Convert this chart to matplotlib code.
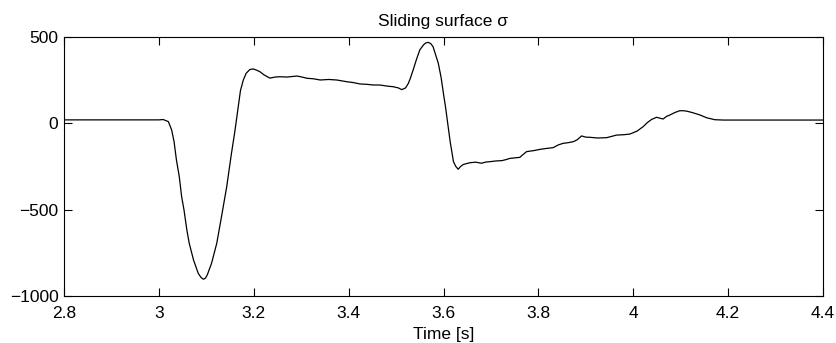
import matplotlib
matplotlib.use("Agg")
import matplotlib.pyplot as plt

# time [s] and sliding surface value
t = [2.80, 3.00, 3.009, 3.020, 3.027, 3.032, 3.037, 3.043, 3.048, 3.053,
     3.059, 3.064, 3.073, 3.083, 3.089, 3.094, 3.098, 3.102, 3.111, 3.122,
     3.132, 3.143, 3.153, 3.160, 3.167, 3.172, 3.178, 3.184, 3.192, 3.199,
     3.206, 3.213, 3.222, 3.234, 3.245, 3.255, 3.270, 3.291, 3.302, 3.312,
     3.326, 3.340, 3.358, 3.375, 3.396, 3.410, 3.424, 3.438, 3.452, 3.466,
     3.480, 3.494, 3.505, 3.512, 3.520, 3.526, 3.530, 3.536, 3.543, 3.550,
     3.558, 3.563, 3.568, 3.573, 3.578, 3.583, 3.589, 3.595, 3.600, 3.604,
     3.607, 3.611, 3.614, 3.618, 3.621, 3.626, 3.631, 3.636, 3.642, 3.650,
     3.656, 3.668, 3.680, 3.690, 3.698, 3.710, 3.723, 3.732, 3.740, 3.750,
     3.761, 3.768, 3.775, 3.790, 3.803, 3.818, 3.831, 3.842, 3.852, 3.863,
     3.874, 3.882, 3.891, 3.900, 3.909, 3.925, 3.944, 3.955, 3.965, 3.980,
     3.993, 4.008, 4.021, 4.030, 4.039, 4.049, 4.056, 4.063, 4.070, 4.077,
     4.088, 4.098, 4.105, 4.112, 4.125, 4.141, 4.155, 4.172, 4.190, 4.218,
     4.40]
sigma = [20, 20, 22, 10, -39, -106, -212, -309, -425, -502,
         -618, -695, -791, -869, -893, -903, -897, -878, -811, -695,
         -541, -367, -174, -50, 90, 190, 251, 290, 312, 315,
         308, 299, 280, 262, 268, 270, 268, 274, 268, 261,
         258, 251, 254, 251, 241, 236, 228, 226, 222, 222,
         216, 212, 205, 195, 205, 232, 260, 309, 370, 425,
         455, 466, 469, 462, 444, 400, 348, 265, 170, 100,
         38, -40, -105, -170, -222, -250, -266, -250, -238, -232,
         -228, -225, -231, -224, -222, -218, -216, -210, -203, -200,
         -197, -180, -164, -158, -151, -145, -141, -125, -116, -112,
         -106, -95, -73, -80, -81, -85, -83, -75, -68, -66,
         -62, -45, -19, 5, 23, 35, 30, 25, 40, 48,
         63, 73, 73, 71, 62, 48, 32, 21, 19, 19,
         19]

xticks = [2.8, 3, 3.2, 3.4, 3.6, 3.8, 4, 4.2, 4.4]
xticklabels = ["2.8", "3", "3.2", "3.4", "3.6", "3.8", "4", "4.2", "4.4"]
yticks = [-1000, -500, 0, 500]
yticklabels = ["\u22121000", "\u2212500", "0", "500"]

plt.rcParams['font.family'] = ['Liberation Sans', 'DejaVu Sans']
plt.rcParams['font.size'] = 12.5

fig = plt.figure(figsize=(8.37, 3.43), dpi=100)
ax = fig.add_axes([64/837, 47/343, 759/837, 259/343])

ax.plot(t, sigma, color='black', lw=0.9)

ax.set_xlim(2.8, 4.4)
ax.set_ylim(-1000, 500)
ax.set_xticks(xticks)
ax.set_xticklabels(xticklabels)
ax.set_yticks(yticks)
ax.set_yticklabels(yticklabels)
ax.tick_params(direction='in', length=5.5, width=0.8, top=True, right=True)
ax.tick_params(axis='x', pad=7.5)
ax.tick_params(axis='y', pad=4)
for s in ax.spines.values():
    s.set_linewidth(0.8)

ax.set_title("Sliding surface \u03c3", fontsize=12.5, pad=8)
ax.set_xlabel("Time [s]", labelpad=4)

fig.savefig("out.png", dpi=100)
